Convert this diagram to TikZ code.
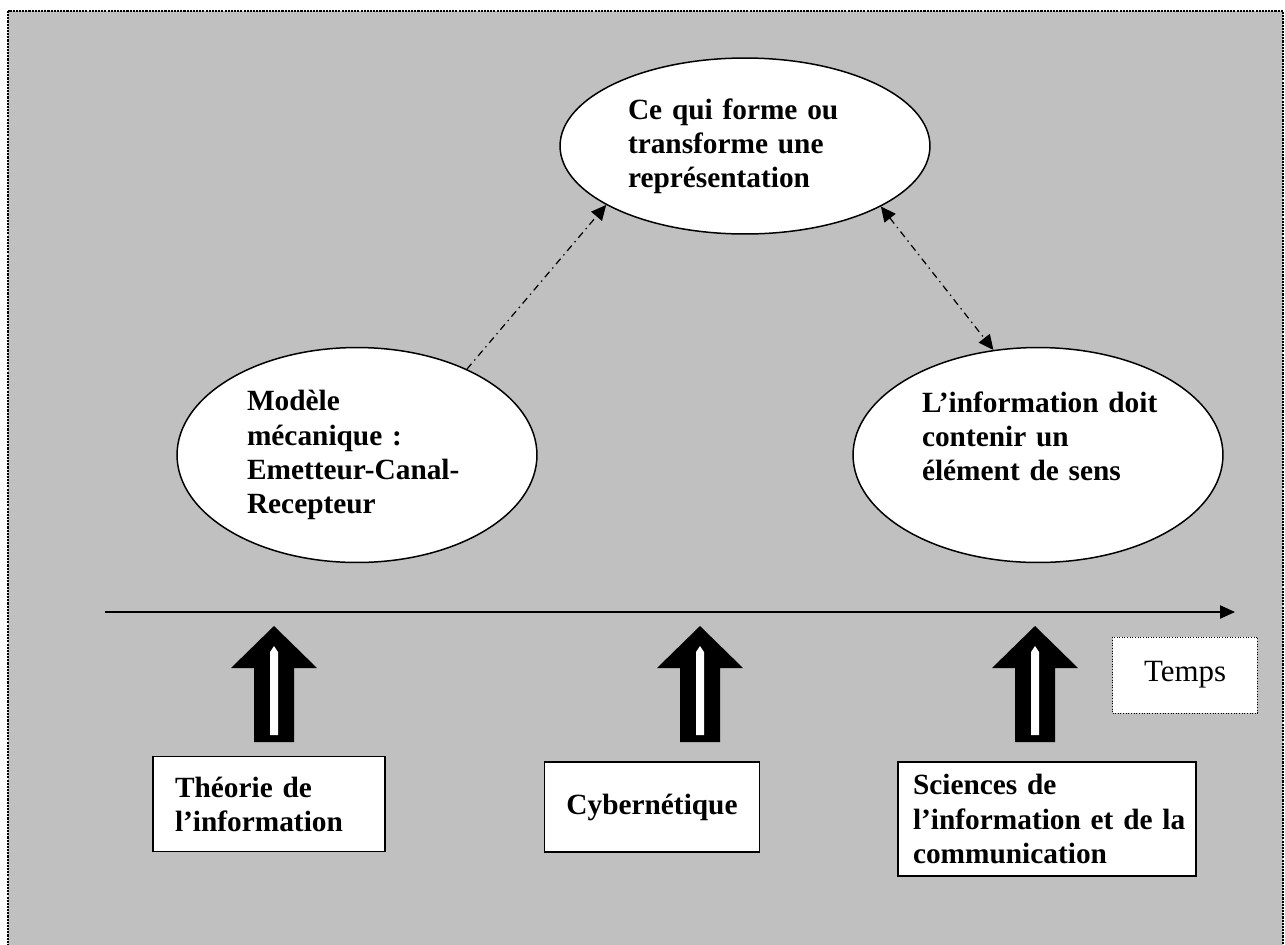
\documentclass[tikz,border=0pt]{standalone}
\usepackage{fontspec}
\setmainfont{Liberation Serif}
\usetikzlibrary{arrows.meta, shapes.geometric}

\definecolor{fondgris}{HTML}{C0C0C0}
\newcommand{\gras}{\bfseries\fontsize{16.7}{19.4}\selectfont}

\begin{document}
\begin{tikzpicture}[
    x=0.02cm, y=-0.02cm,
    >={Triangle[length=8.5pt, width=8pt]},
    bulle/.style={ellipse, draw, line width=0.85pt, fill=white, inner sep=0pt, align=left, font=\gras},
    boite/.style={rectangle, draw, line width=0.85pt, fill=white, align=left, font=\gras},
    tempsbox/.style={rectangle, draw, fill=white, line width=0.5pt, densely dotted, font=\fontsize{17.6}{20}\selectfont, minimum width=2.9cm, minimum height=1.52cm},
    lien/.style={line width=0.7pt, dash pattern=on 4pt off 2.5pt on 0.8pt off 2.5pt},
    axe/.style={-{Triangle[length=8.5pt, width=7.5pt]}, line width=0.8pt}
]
\useasboundingbox (0,0) rectangle (1285,944);
\clip (0,0) rectangle (1285,944);

% fond
\draw[fill=fondgris, line width=0.6pt, dash pattern=on 1.2pt off 0.6pt] (8,11) rectangle (1283,980);

% ellipses
\node[bulle, minimum width=7.4cm, minimum height=3.52cm, text width=4.68cm] (forme) at (745,146) {Ce~qui~forme~ou\\transforme~une\\représentation};
\node[bulle, minimum width=7.2cm, minimum height=4.3cm, text width=4.4cm] (modele) at (357,455) {Modèle\\mécanique~:\\Emetteur-Canal-\\Recepteur};
\node[bulle, minimum width=7.4cm, minimum height=4.3cm, text width=4.64cm] (sens) at (1038,455) {L’information~doit\\contenir~un\\élément~de~sens\rule[-0.74cm]{0pt}{0.74cm}};

% liens
\draw[lien, ->] (modele.38) -- (forme.203);
\draw[lien, <->] (forme.336) -- (sens.113);

% axe du temps
\coordinate (debut) at (105,612);
\coordinate (fin) at (1235,612);
\draw[axe] (debut) -- (fin);
\node[tempsbox] (temps) at (1185,675) {Temps};

% fleches pleines
\foreach \c in {274,700,1035} {
  \fill (\c,626) -- (\c+43,668) -- (\c+20,668) -- (\c+20,742) -- (\c-20,742) -- (\c-20,668) -- (\c-43,668) -- cycle;
  \fill[white] (\c-4,735) -- (\c-4,652) -- (\c,646) -- (\c+4,652) -- (\c+4,735) -- cycle;
}

% boites
\node[boite, minimum width=4.64cm, minimum height=1.9cm, text width=3.76cm, inner xsep=0.44cm] (theorie) at (269,804) {Théorie~de\\l’information};
\node[boite, minimum width=4.3cm, minimum height=1.8cm] (cyber) at (652,807) {Cybernétique};
\node[boite, minimum width=5.96cm, minimum height=2.28cm, text width=5.36cm, inner xsep=0.3cm] (sciences) at (1047,819) {Sciences~de\\l’information~et~de~la\\communication};
\end{tikzpicture}
\end{document}
